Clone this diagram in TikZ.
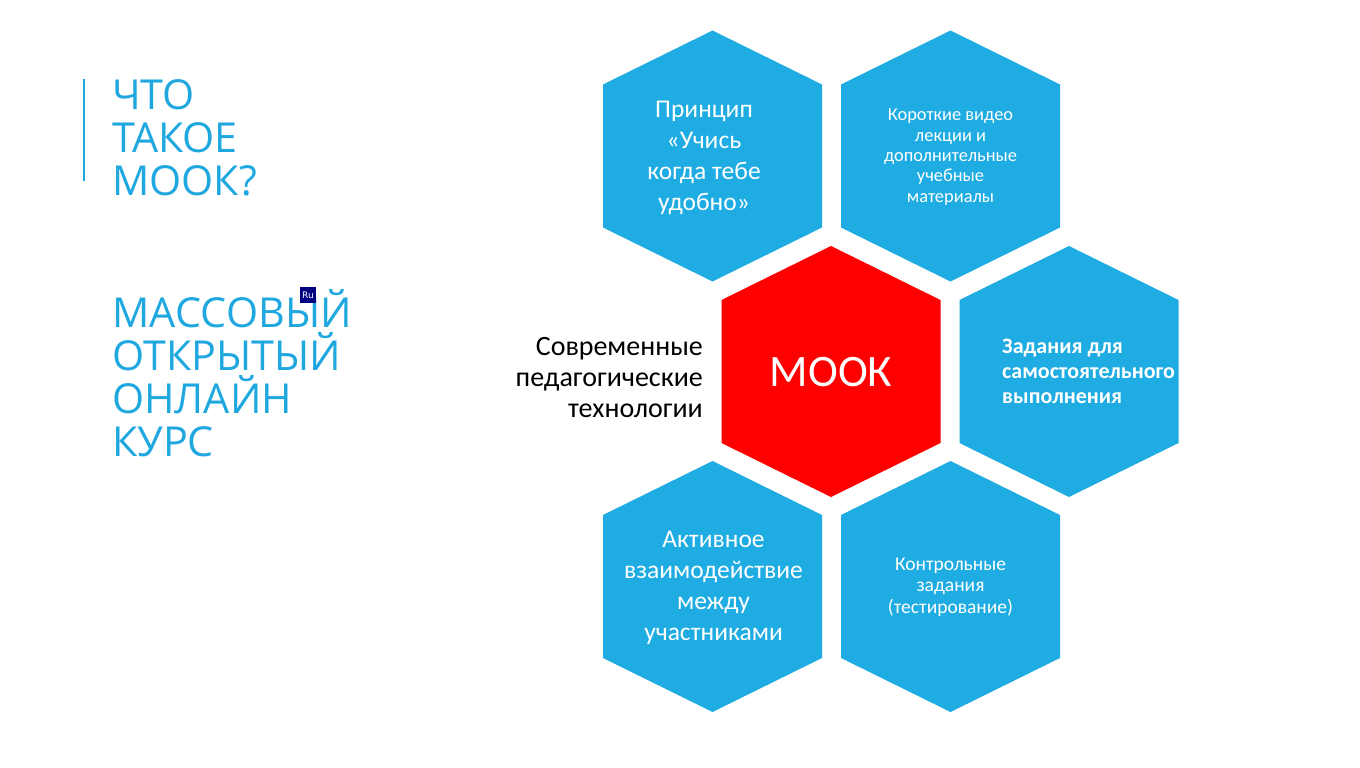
\documentclass[tikz,border=0pt]{standalone}
\usepackage{fontspec}
\setmainfont{Carlito}
\newfontfamily\titlefont{Open Sans}
\newfontfamily\smallsans{DejaVu Sans}
\definecolor{hexblue}{RGB}{31,172,227}
\definecolor{titleblue}{RGB}{31,168,224}
\definecolor{mookred}{RGB}{255,0,0}
\definecolor{runavy}{RGB}{0,0,128}
\tikzset{
  hexagon/.pic={
    \path[pic actions] (0,-125.5) -- (109.5,-71.5) -- (109.5,71.5) -- (0,125.5)
      -- (-109.5,71.5) -- (-109.5,-71.5) -- cycle;
  },
  titleline/.style={anchor=base west, inner sep=0pt, text=titleblue,
    font=\titlefont\fontsize{41.3}{43}\selectfont},
  hextext/.style={text=white, align=center, inner sep=0pt},
  bigtext/.style={font=\fontsize{25.5}{31}\selectfont},
  smalltext/.style={font=\fontsize{18.4}{20.3}\selectfont},
}
\begin{document}
\begin{tikzpicture}[x=1pt,y=-1pt]
\useasboundingbox[fill=white] (0,0) rectangle (1360,768);

% left title bar
\draw[titleblue, line width=1.6pt] (84,79) -- (84,181);

\node[titleline] (t1) at (112,109) {ЧТО};
\node[titleline] (t2) at (112,152) {ТАКОЕ};
\node[titleline] (t3) at (112,195) {МООК?};
\node[titleline] (t4) at (112,327) {МАССОВЫЙ};
\node[titleline] (t5) at (112,370) {ОТКРЫТЫЙ};
\node[titleline] (t6) at (112,413) {ОНЛАЙН};
\node[titleline] (t7) at (112,456) {КУРС};

% Ru indicator
\node[fill=runavy, text=white, minimum width=16pt, minimum height=16pt, inner sep=0pt,
  font=\smallsans\fontsize{9}{9}\selectfont] (ru) at (308,295) {Ru};

% hexagons
\pic[fill=hexblue] at (712.5,156) {hexagon};
\pic[fill=hexblue] at (950.5,156) {hexagon};
\pic[fill=mookred] at (831,371.5) {hexagon};
\pic[fill=hexblue] at (1069,371.5) {hexagon};
\pic[fill=hexblue] at (712.5,586.5) {hexagon};
\pic[fill=hexblue] at (950.5,586.5) {hexagon};

% hexagon texts
\node[hextext, bigtext] (h1) at (704,158) {Принцип\\«Учись\\когда тебе\\удобно»};
\node[hextext, smalltext] (h2) at (950.5,157) {Короткие видео\\лекции и\\дополнительные\\учебные\\материалы};
\node[hextext, font=\fontsize{45}{50}\selectfont] (mook) at (831,372) {МООК};
\node[hextext, align=left, anchor=west, font=\bfseries\fontsize{22}{25}\selectfont] (h3) at (1002,371) {Задания для\\самостоятельного\\выполнения};
\node[hextext, bigtext] (h4) at (713.5,588) {Активное\\взаимодействие\\между\\участниками};
\node[hextext, font=\fontsize{19.5}{21.5}\selectfont] (h5) at (950.5,587) {Контрольные\\задания\\(тестирование)};

% side label
\node[align=right, anchor=east, inner sep=0pt, text=black, font=\fontsize{28}{31}\selectfont] (side) at (703,378) {Современные\\педагогические\\технологии};
\end{tikzpicture}
\end{document}
